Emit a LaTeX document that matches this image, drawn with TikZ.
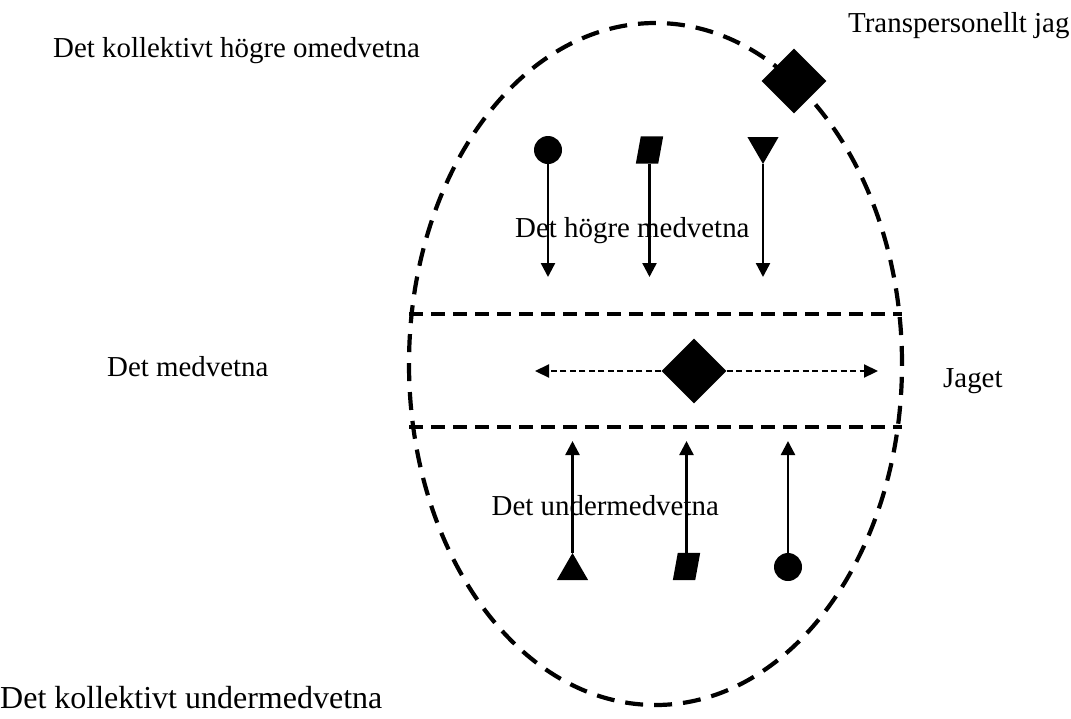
\documentclass[tikz,border=0pt]{standalone}
\usepackage{fontspec}
\setmainfont{Liberation Serif}
\usetikzlibrary{shapes.geometric,arrows.meta}
\begin{document}
\begin{tikzpicture}[x=1pt,y=-1pt,
  txt/.style={inner sep=0pt,font=\fontsize{28.9}{34}\selectfont},
  zone/.style={line width=3.2pt,dash pattern=on 14pt off 8pt},
  shell/.style={line width=4.2pt,dash pattern=on 18pt off 11pt},
  flow/.style={line width=2.4pt,-{Triangle[length=14pt,width=14pt]}},
  drift/.style={line width=2.2pt,dash pattern=on 6pt off 3.5pt,-{Triangle[length=14pt,width=13pt]}},
  dot/.style={circle,fill,inner sep=0pt,minimum size=28pt},
  slab/.style={rectangle,inner sep=0pt,minimum width=22pt,minimum height=27pt},
  tri/.style={regular polygon,regular polygon sides=3,fill,inner sep=0pt,minimum size=36pt},
  self/.style={diamond,fill,inner sep=0pt,minimum width=65pt,minimum height=65pt},
]
\useasboundingbox (0,0) rectangle (1071,718);

% the psyche as a dashed egg
\draw[shell] (655.5,364) ellipse [x radius=246.5pt, y radius=341pt];

% borders of the conscious band
\coordinate (u1) at (409,314);
\coordinate (u2) at (902,314);
\coordinate (l1) at (409,427);
\coordinate (l2) at (902,427);
\draw[zone] (u1) -- (u2);
\draw[zone] (l1) -- (l2);

% influences from above
\node[dot] (hc) at (548,150) {};
\node[slab] (hp) at (649.5,150) {};
\fill ([xshift=-2.5pt]hp.south west) -- ([xshift=-2.5pt]hp.south east)
   -- ([xshift=2.5pt]hp.north east) -- ([xshift=2.5pt]hp.north west) -- cycle;
\node[tri,shape border rotate=180] (ht) at (763,146) {};
\coordinate (hc') at (548,277);
\coordinate (hp') at (649.5,277);
\coordinate (ht') at (763,277);
\draw[flow] (hc) -- (hc');
\draw[flow] (hp) -- (hp');
\draw[flow] (ht) -- (ht');

% influences from below
\node[tri] (lt) at (572.5,571) {};
\node[slab] (lp) at (686.5,566.5) {};
\fill ([xshift=-2.5pt]lp.south west) -- ([xshift=-2.5pt]lp.south east)
   -- ([xshift=2.5pt]lp.north east) -- ([xshift=2.5pt]lp.north west) -- cycle;
\node[dot] (lc) at (788,567) {};
\coordinate (lt') at (572.5,441);
\coordinate (lp') at (686.5,441);
\coordinate (lc') at (788,441);
\draw[flow] (lt) -- (lt');
\draw[flow] (lp) -- (lp');
\draw[flow] (lc) -- (lc');

% the ego and its field of awareness
\node[self] (ego) at (694,371) {};
\coordinate (egoL) at (535,371);
\coordinate (egoR) at (878,371);
\draw[drift] (ego.west) -- (egoL);
\draw[drift] (ego.east) -- (egoR);

% transpersonal self on the rim
\node[self] (tself) at (794,81) {};

% labels
\node[txt,anchor=base west] (kho) at (53,57) {Det kollektivt högre omedvetna};
\node[txt,anchor=base west] (tpj) at (848,32) {Transpersonellt jag};
\node[txt,anchor=base west] (hm) at (515,237) {Det högre medvetna};
\node[txt,anchor=base west] (med) at (107,376) {Det medvetna};
\node[txt,anchor=base west] (jag) at (943,387) {Jaget};
\node[txt,anchor=base east] (um) at (719,515) {Det undermedvetna};
\node[txt,anchor=base west,font=\fontsize{32}{38}\selectfont] (kum) at (0,708) {Det kollektivt undermedvetna};
\end{tikzpicture}
\end{document}
